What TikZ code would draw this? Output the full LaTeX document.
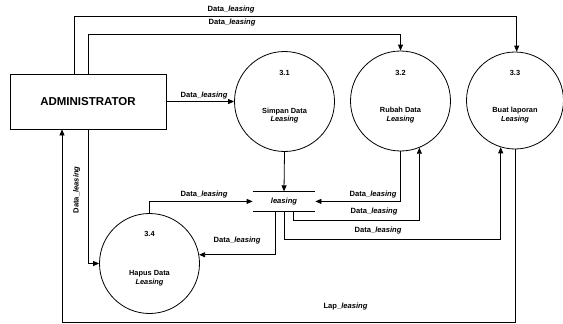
\documentclass[tikz,border=0pt]{standalone}
\usepackage{fontspec}
\setmainfont{Liberation Sans}
\usetikzlibrary{arrows.meta,calc}
\begin{document}
\begin{tikzpicture}[x=1pt,y=-1pt,
  line width=0.8pt,
  flow/.style={draw,-{Triangle[length=6pt,width=5pt]}},
  plain/.style={draw},
  proc/.style={draw,circle,minimum size=#1,inner sep=0pt},
  lbl/.style={font=\fontsize{7.6}{8}\selectfont\bfseries,inner sep=0pt},
  ptxt/.style={font=\fontsize{7.4}{8.8}\selectfont\bfseries,align=center,inner sep=0pt}]
\useasboundingbox (0,0) rectangle (563,324);
% entity
\node[draw,minimum width=156pt,minimum height=55pt,inner sep=0pt,
      font=\fontsize{11.5}{12}\selectfont\bfseries] (admin) at (88,101.5) {ADMINISTRATOR};
% processes
\node[proc=100pt] (p31) at (284.5,101.5) {};
\node[proc=100pt] (p32) at (400.5,101) {};
\node[proc=97pt]  (p33) at (515,100.5) {};
\node[proc=100pt] (p34) at (149.5,263.5) {};
\node[ptxt] (n31) at ([yshift=28.5pt]p31.center) {3.1};
\node[ptxt] (t31) at ([yshift=-14pt]p31.center) {Simpan Data\\\textit{Leasing}};
\node[ptxt] (n32) at ([yshift=28.5pt]p32.center) {3.2};
\node[ptxt] (t32) at ([yshift=-14pt]p32.center) {Rubah Data\\\textit{Leasing}};
\node[ptxt] (n33) at ([yshift=28pt]p33.center) {3.3};
\node[ptxt] (t33) at ([yshift=-14.5pt]p33.center) {Buat laporan\\\textit{Leasing}};
\node[ptxt] (n34) at ([yshift=29.5pt]p34.center) {3.4};
\node[ptxt] (t34) at ([yshift=-14.5pt]p34.center) {Hapus Data\\\textit{Leasing}};
% data store
\node[minimum width=62pt,minimum height=19.3pt,inner sep=0pt,
      font=\fontsize{7.6}{8}\selectfont\bfseries\itshape] (store) at (284,201.4) {leasing};
\draw (store.north west) -- (store.north east);
\draw (store.south west) -- (store.south east);
% flows
\draw[flow] ([xshift=-14pt]admin.north) -- ++(0,-57) -| (p33.88);
\node[lbl] (l1) at (231,9.5) {Data\_\textit{leasing}};
\draw[flow] (admin.north) -- ++(0,-39) -| (p32.north);
\node[lbl] (l2) at (232,23) {Data\_\textit{leasing}};
\draw[flow] (admin.east) -- (p31.west);
\node[lbl] (l3) at (204,96) {Data\_\textit{leasing}};
\draw[flow] (p31.south) -- (store.north);
\draw[flow] (p33.south) -- ++(0,173) -| ([xshift=-26pt]admin.south);
\node[lbl] (l10) at (345.5,306.7) {Lap\_\textit{leasing}};
\draw[flow] (admin.south) |- (p34.west);
\node[lbl,rotate=90] (l4) at (76.7,190) {Data\_\textit{leasing}};
\draw[flow] (p34.north) |- (store.west);
\node[lbl] (l5) at (204,195) {Data\_\textit{leasing}};
\draw[flow] ([xshift=-9pt]store.south) |- (p34.10.6);
\node[lbl] (l6) at (237,241) {Data\_\textit{leasing}};
\draw[flow] (p32.south) |- (store.east);
\node[lbl] (l7) at (373,195) {Data\_\textit{leasing}};
\draw[flow] ([xshift=9pt]store.south) -- ++(0,9) -| (p32.292);
\node[lbl] (l8) at (374,211.7) {Data\_\textit{leasing}};
\draw[flow] (store.south) -- ++(0,28) -| (p33.253);
\node[lbl] (l9) at (378,230.7) {Data\_\textit{leasing}};
\end{tikzpicture}
\end{document}
